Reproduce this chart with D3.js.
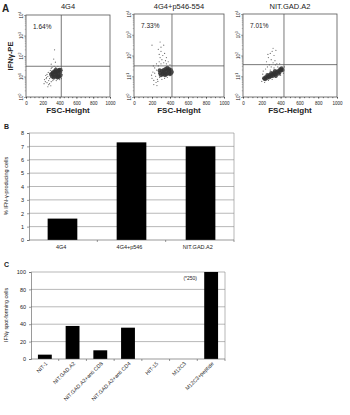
<!DOCTYPE html>
<html>
<head>
<meta charset="utf-8">
<script src="https://cdn.jsdelivr.net/npm/d3@7"></script>
<style>
  body { margin: 0; background: #fff; }
  text { font-family: "Liberation Sans", Arial, sans-serif; fill: #222; }
</style>
</head>
<body>
<script>
// ---- panel A: flow plots (FSC, log10 IFNg) ----
var flowTitles = ["4G4", "4G4+p546-554", "NIT.GAD.A2"];
var flowPct = ["1.64%", "7.33%", "7.01%"];
var gateFsc = [420, 422, 436];
var gateLog = [1.5, 1.5, 1.56];
var flowCore = [
  [[310,1.0],[330,1.1],[350,1.2],[370,1.25],[390,1.3],[405,1.2],[410,1.05],[395,1.0],[370,1.05],[350,1.0],[330,0.95],[360,1.15],[385,1.15],[400,1.33],[340,1.25],[315,1.15],[375,0.95],[412,1.3],[300,1.1],[320,1.2],[355,1.32],[385,0.98]],
  [[290,1.15],[310,1.25],[330,1.3],[350,1.35],[370,1.4],[390,1.35],[410,1.3],[420,1.2],[400,1.1],[380,1.15],[360,1.1],[340,1.15],[320,1.1],[300,1.05],[360,1.25],[395,1.25],[330,1.2],[285,1.28],[410,1.15],[345,1.05],[375,1.3]],
  [[225,0.9],[240,0.95],[255,0.92],[270,1.0],[285,1.05],[300,1.0],[315,1.1],[330,1.15],[345,1.1],[360,1.2],[375,1.25],[390,1.2],[405,1.3],[420,1.3],[300,1.15],[340,1.25],[380,1.12],[260,1.05],[410,1.38],[235,0.86],[280,0.95],[320,1.02],[350,1.02],[395,1.33]]
];
var flowSparse = [
  [[230,0.75],[250,0.7],[240,0.9],[260,1.0],[270,0.8],[280,0.65],[290,1.3],[300,1.4],[265,1.2],[250,1.1],[220,0.85],[280,0.9],[300,0.75],[320,0.8],[310,1.45],[335,1.5],[355,1.45],[380,1.5],[350,1.7],[330,1.85],[300,1.6],[340,2.3],[270,0.6],[245,0.95],[295,0.55],[360,0.8],[400,0.85],[420,0.9],[425,1.4],[430,1.1],[285,1.15],[235,1.05],[260,0.5],[215,0.65]],
  [[200,0.9],[210,1.2],[220,0.8],[230,1.4],[240,1.0],[250,1.6],[260,0.85],[270,1.5],[280,1.7],[290,1.9],[300,1.6],[310,1.8],[320,2.0],[330,1.65],[340,2.1],[350,1.75],[360,1.6],[300,2.4],[290,2.65],[270,2.3],[200,2.5],[330,2.5],[380,1.7],[400,1.55],[230,1.15],[245,0.7],[265,0.75],[285,0.95],[310,0.85],[340,0.9],[370,0.95],[250,1.3],[215,1.5],[195,1.05],[280,2.05],[360,1.9],[220,0.6],[255,0.55],[300,2.2]],
  [[250,1.7],[270,1.9],[290,2.1],[300,1.8],[310,2.2],[320,1.65],[330,2.0],[340,1.75],[350,2.25],[360,1.6],[280,1.55],[260,1.45],[240,1.35],[300,1.45],[330,1.4],[370,1.45],[390,1.6],[210,1.1],[200,0.75],[230,0.7],[270,0.8],[310,0.85],[350,0.95],[400,1.05],[430,1.15],[440,1.45],[290,1.3],[215,1.25],[265,2.05],[320,2.35],[345,1.55],[210,0.9]]
];
var fscTicks = [0, 200, 400, 600, 800, 1000];
var logTicks = [0, 1, 2, 3, 4];

// ---- panel B ----
var catB = ["4G4", "4G4+p546", "NIT.GAD.A2"];
var valB = [1.6, 7.3, 7.0];
var ticksB = [0, 1, 2, 3, 4, 5, 6, 7, 8];

// ---- panel C ----
var catC = ["NIT-1", "NIT.GAD.A2", "NIT.GAD.A2+anti CD8", "NIT.GAD.A2+anti CD4", "HIT-15", "M12C3", "M12C3+peptide"];
var valC = [5, 38, 10, 36, 0, 0, 100];
var ticksC = [0, 20, 40, 60, 80, 100];

var svg = d3.select("body").append("svg").attr("width", 350).attr("height", 415);

var boxes = [
  {x0: 26, x1: 110, y0: 15, y1: 97},
  {x0: 134, x1: 224, y0: 14, y1: 97},
  {x0: 243, x1: 337, y0: 14, y1: 97}
];

svg.append("text").attr("x", 2).attr("y", 12).attr("font-size", 10).attr("font-weight", "bold").text("A");

boxes.forEach(function(b, i) {
  var g = svg.append("g");
  var x = d3.scaleLinear().domain([0, 1000]).range([b.x0, b.x1]);
  var y = d3.scaleLinear().domain([0, 4]).range([b.y1, b.y0]);

  g.append("text").attr("x", (b.x0 + b.x1) / 2).attr("y", 9).attr("text-anchor", "middle")
    .attr("font-size", 7.5).text(flowTitles[i]);

  g.append("rect").attr("x", b.x0).attr("y", b.y0).attr("width", b.x1 - b.x0).attr("height", b.y1 - b.y0)
    .attr("fill", "none").attr("stroke", "#555").attr("stroke-width", 0.8);

  g.selectAll("circle.sp").data(flowSparse[i]).enter().append("circle").attr("class", "sp")
    .attr("cx", function(d) { return x(d[0]); }).attr("cy", function(d) { return y(d[1]); })
    .attr("r", 0.6).attr("fill", "#666");
  g.selectAll("circle.co").data(flowCore[i]).enter().append("circle").attr("class", "co")
    .attr("cx", function(d) { return x(d[0]); }).attr("cy", function(d) { return y(d[1]); })
    .attr("r", 2.1).attr("fill", "#333").attr("fill-opacity", 0.85);

  // quadrant gates
  g.append("line").attr("x1", x(gateFsc[i])).attr("x2", x(gateFsc[i])).attr("y1", b.y0).attr("y2", b.y1)
    .attr("stroke", "#555").attr("stroke-width", 0.8);
  g.append("line").attr("x1", b.x0).attr("x2", b.x1).attr("y1", y(gateLog[i])).attr("y2", y(gateLog[i]))
    .attr("stroke", "#555").attr("stroke-width", 0.8);

  g.append("text").attr("x", b.x0 + 7).attr("y", b.y0 + 14).attr("font-size", 6.5).text(flowPct[i]);

  // x axis
  var xa = g.append("g").attr("transform", "translate(0," + b.y1 + ")")
    .call(d3.axisBottom(x).tickValues(fscTicks).tickSize(2).tickFormat(d3.format("d")));
  xa.select(".domain").remove();
  xa.selectAll("text").attr("font-size", 4.5).attr("dy", "0.6em").attr("fill", "#333");
  xa.selectAll("line").attr("stroke", "#555");
  g.append("g").attr("transform", "translate(0," + b.y1 + ")")
    .call(d3.axisBottom(x).ticks(20).tickSize(1.2).tickFormat(""))
    .select(".domain").remove();

  // y axis (log decades)
  var ya = g.append("g").attr("transform", "translate(" + b.x0 + ",0)")
    .call(d3.axisLeft(y).tickValues(logTicks).tickSize(2).tickFormat(""));
  ya.select(".domain").remove();
  ya.selectAll("line").attr("stroke", "#555");
  logTicks.forEach(function(t) {
    var tx = g.append("text").attr("transform", "translate(" + (b.x0 - 3) + "," + y(t) + ") rotate(-90)")
      .attr("text-anchor", "middle").attr("font-size", 4.5).attr("fill", "#333");
    tx.append("tspan").text("10");
    tx.append("tspan").attr("dy", -2).attr("font-size", 3.5).text(t);
  });
  var minor = [];
  d3.range(0, 4).forEach(function(d) {
    d3.range(2, 10).forEach(function(m) { minor.push(d + Math.log10(m)); });
  });
  g.selectAll("line.mn").data(minor).enter().append("line").attr("class", "mn")
    .attr("x1", b.x0 - 1.2).attr("x2", b.x0).attr("y1", function(d) { return y(d); }).attr("y2", function(d) { return y(d); })
    .attr("stroke", "#777").attr("stroke-width", 0.5);
  g.selectAll(".tick line").attr("stroke-width", 0.5);

  g.append("text").attr("x", (b.x0 + b.x1) / 2).attr("y", 113).attr("text-anchor", "middle")
    .attr("font-size", 8).attr("font-weight", "bold").text("FSC-Height");
});
svg.append("text").attr("transform", "translate(13,56) rotate(-90)").attr("text-anchor", "middle")
  .attr("font-size", 7.5).attr("font-weight", "bold").text("IFNγ-PE");

// ---- panel B bars ----
var bL = 29, bR = 234, bT = 133, bB = 240;
var xB = d3.scaleBand().domain(catB).range([bL, bR]).paddingInner(0.57).paddingOuter(0.27);
var yB = d3.scaleLinear().domain([0, 8]).range([bB, bT]);
svg.append("text").attr("x", 4).attr("y", 129).attr("font-size", 7).attr("font-weight", "bold").text("B");
var gB = svg.append("g");
gB.selectAll("line.grid").data(ticksB.slice(1)).enter().append("line")
  .attr("x1", bL).attr("x2", bR).attr("y1", function(d) { return yB(d); }).attr("y2", function(d) { return yB(d); })
  .attr("stroke", "#888").attr("stroke-width", 0.6);
gB.append("line").attr("x1", bR).attr("x2", bR).attr("y1", bT).attr("y2", bB).attr("stroke", "#888").attr("stroke-width", 0.6);
gB.selectAll("rect").data(valB).enter().append("rect")
  .attr("x", function(d, i) { return xB(catB[i]); }).attr("width", xB.bandwidth())
  .attr("y", function(d) { return yB(d); }).attr("height", function(d) { return bB - yB(d); })
  .attr("fill", "#000");
var yaB = gB.append("g").attr("transform", "translate(" + bL + ",0)").call(d3.axisLeft(yB).tickValues(ticksB).tickSize(2));
yaB.selectAll("text").attr("font-size", 5.5);
yaB.selectAll("line, path").attr("stroke", "#555").attr("stroke-width", 0.6);
gB.append("line").attr("x1", bL).attr("x2", bR).attr("y1", bB).attr("y2", bB).attr("stroke", "#555").attr("stroke-width", 0.6);
var stepB = (bR - bL) / catB.length;
d3.range(1, catB.length + 1).forEach(function(k) {
  gB.append("line").attr("x1", bL + k * stepB).attr("x2", bL + k * stepB).attr("y1", bB).attr("y2", bB + 2)
    .attr("stroke", "#555").attr("stroke-width", 0.6);
});
gB.selectAll("text.cat").data(catB).enter().append("text").attr("class", "cat")
  .attr("x", function(d) { return bL + (catB.indexOf(d) + 0.5) * stepB - 2; }).attr("y", 249)
  .attr("text-anchor", "middle").attr("font-size", 5.5).text(function(d) { return d; });
svg.append("text").attr("transform", "translate(8,186) rotate(-90)").attr("text-anchor", "middle")
  .attr("font-size", 5.5).text("% IFN-γ-producing cells");

// ---- panel C bars ----
var cL = 31, cR = 225, cT = 272, cB = 359;
var xC = d3.scaleBand().domain(catC).range([cL, cR]).paddingInner(0.5).paddingOuter(0.25);
var yC = d3.scaleLinear().domain([0, 100]).range([cB, cT]);
svg.append("text").attr("x", 4).attr("y", 267).attr("font-size", 7).attr("font-weight", "bold").text("C");
var gC = svg.append("g");
gC.selectAll("line.grid").data(ticksC.slice(1)).enter().append("line")
  .attr("x1", cL).attr("x2", cR).attr("y1", function(d) { return yC(d); }).attr("y2", function(d) { return yC(d); })
  .attr("stroke", "#888").attr("stroke-width", 0.6);
gC.append("line").attr("x1", cR).attr("x2", cR).attr("y1", cT).attr("y2", cB).attr("stroke", "#888").attr("stroke-width", 0.6);
gC.selectAll("rect").data(valC).enter().append("rect")
  .attr("x", function(d, i) { return xC(catC[i]); }).attr("width", xC.bandwidth())
  .attr("y", function(d) { return yC(d); }).attr("height", function(d) { return cB - yC(d); })
  .attr("fill", "#000");
var yaC = gC.append("g").attr("transform", "translate(" + cL + ",0)").call(d3.axisLeft(yC).tickValues(ticksC).tickSize(2));
yaC.selectAll("text").attr("font-size", 5.5);
yaC.selectAll("line, path").attr("stroke", "#555").attr("stroke-width", 0.6);
gC.append("line").attr("x1", cL).attr("x2", cR).attr("y1", cB).attr("y2", cB).attr("stroke", "#555").attr("stroke-width", 0.6);
var stepC = (cR - cL) / catC.length;
d3.range(1, catC.length + 1).forEach(function(k) {
  gC.append("line").attr("x1", cL + k * stepC).attr("x2", cL + k * stepC).attr("y1", cB).attr("y2", cB + 2)
    .attr("stroke", "#555").attr("stroke-width", 0.6);
});
gC.selectAll("text.cat").data(catC).enter().append("text").attr("class", "cat")
  .attr("transform", function(d) { return "translate(" + (xC(d) + xC.bandwidth() / 2 + 3) + "," + (cB + 5) + ") rotate(-45)"; })
  .attr("text-anchor", "end").attr("font-size", 5.3).attr("fill", "#222").text(function(d) { return d; });
gC.append("text").attr("x", xC("M12C3+peptide") - 14).attr("y", yC(100) + 8).attr("text-anchor", "middle")
  .attr("font-size", 5).text("(*250)");
svg.append("text").attr("transform", "translate(8,315) rotate(-90)").attr("text-anchor", "middle")
  .attr("font-size", 5.3).text("IFNγ spot-forming cells");
</script>
</body>
</html>
